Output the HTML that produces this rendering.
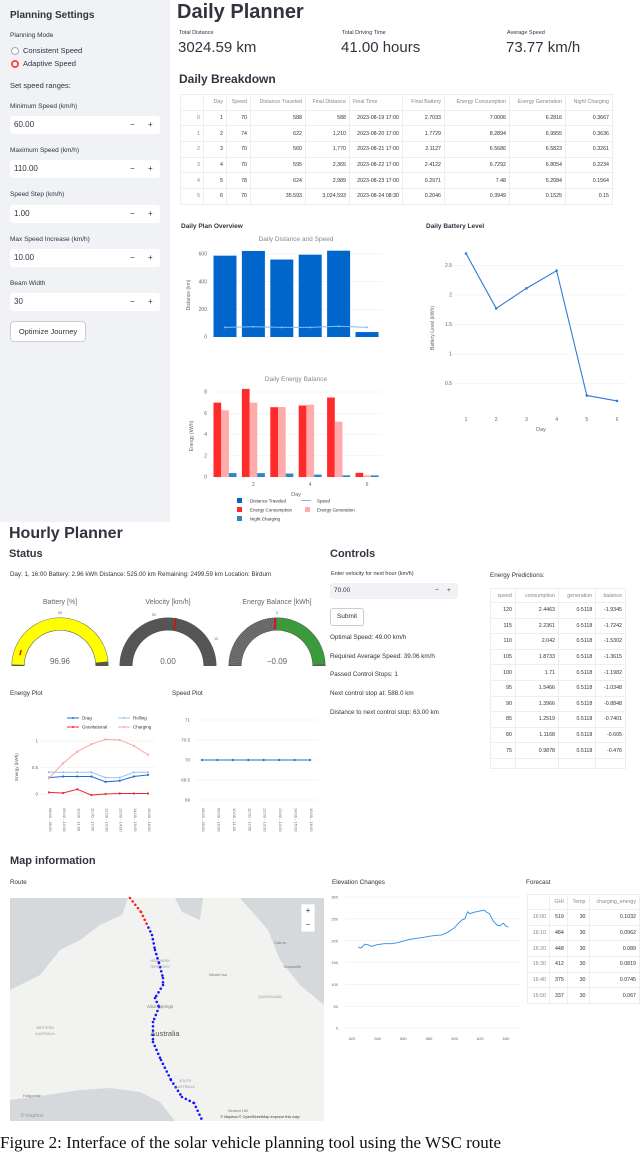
<!DOCTYPE html>
<html><head><meta charset="utf-8">
<style>
body{margin:0;width:640px;height:1142px;overflow:hidden;background:#fff;font-family:"Liberation Sans",sans-serif;color:#31333f;position:relative}
.a{position:absolute;white-space:nowrap}
.sb{left:0;top:0;width:170px;height:522px;background:#f0f2f6}
.lbl{font-size:6.5px;color:#31333f}
.inp{left:10px;width:150px;height:18px;background:#fff;border-radius:3px;font-size:8px;line-height:18px}
.inp span{position:absolute}
.h{font-weight:bold}
table{border-collapse:collapse;font-size:5.3px;color:#333}
td,th{border:1px solid #eceef1;padding:0 3px;text-align:right;font-weight:normal}
th{color:#888}
.t6{font-size:6.5px}
svg text{font-family:"Liberation Sans",sans-serif}
</style></head><body>
<!-- sidebar -->
<div class="a sb"></div>
<div class="a h" style="left:10px;top:10px;font-size:10px">Planning Settings</div>
<div class="a lbl" style="left:10px;top:32px">Planning Mode</div>
<div class="a" style="left:11px;top:47px;width:6px;height:6px;border:1px solid #aaa;border-radius:50%;background:#fff"></div>
<div class="a" style="left:23px;top:46px;font-size:7.5px">Consistent Speed</div>
<div class="a" style="left:11px;top:60px;width:4px;height:4px;border:2px solid #ff4b4b;border-radius:50%;background:#fff"></div>
<div class="a" style="left:23px;top:59px;font-size:7.5px">Adaptive Speed</div>
<div class="a" style="left:10px;top:81px;font-size:7.5px">Set speed ranges:</div>
<div class="a lbl" style="left:10px;top:103px">Minimum Speed (km/h)</div>
<div class="a inp" style="top:116px"><span style="left:4px">60.00</span><span style="left:120px">−</span><span style="left:138px">+</span></div>
<div class="a lbl" style="left:10px;top:147px">Maximum Speed (km/h)</div>
<div class="a inp" style="top:160px"><span style="left:4px">110.00</span><span style="left:120px">−</span><span style="left:138px">+</span></div>
<div class="a lbl" style="left:10px;top:191px">Speed Step (km/h)</div>
<div class="a inp" style="top:205px"><span style="left:4px">1.00</span><span style="left:120px">−</span><span style="left:138px">+</span></div>
<div class="a lbl" style="left:10px;top:236px">Max Speed Increase (km/h)</div>
<div class="a inp" style="top:249px"><span style="left:4px">10.00</span><span style="left:120px">−</span><span style="left:138px">+</span></div>
<div class="a lbl" style="left:10px;top:280px">Beam Width</div>
<div class="a inp" style="top:293px"><span style="left:4px">30</span><span style="left:120px">−</span><span style="left:138px">+</span></div>
<div class="a" style="left:10px;top:321px;width:74px;height:19px;border:1px solid #ccc;border-radius:4px;background:#fff;font-size:7.5px;line-height:19px;text-align:center">Optimize Journey</div>

<!-- daily planner -->
<div class="a h" style="left:177px;top:1px;font-size:20px">Daily Planner</div>
<div class="a" style="left:179px;top:30px;font-size:5.5px">Total Distance</div>
<div class="a" style="left:178px;top:39px;font-size:15px">3024.59 km</div>
<div class="a" style="left:342px;top:30px;font-size:5.5px">Total Driving Time</div>
<div class="a" style="left:341px;top:39px;font-size:15px">41.00 hours</div>
<div class="a" style="left:507px;top:30px;font-size:5.5px">Average Speed</div>
<div class="a" style="left:506px;top:39px;font-size:15px">73.77 km/h</div>
<div class="a h" style="left:179px;top:72px;font-size:12px">Daily Breakdown</div>
<table class="a" style="left:180px;top:94px">
<tr style="height:15.5px"><th style="width:16px"></th><th style="width:16px">Day</th><th style="width:17px">Speed</th><th style="width:48px">Distance Traveled</th><th style="width:37px">Final Distance</th><th style="width:46px;text-align:left">Final Time</th><th style="width:35px">Final Battery</th><th style="width:58px">Energy Consumption</th><th style="width:49px">Energy Generation</th><th style="width:40px">Night Charging</th></tr>
<tr style="height:15.7px"><th>0</th><td>1</td><td>70</td><td>588</td><td>588</td><td>2023-08-19 17:00</td><td>2.7033</td><td>7.0006</td><td>6.2816</td><td>0.3667</td></tr>
<tr style="height:15.7px"><th>1</th><td>2</td><td>74</td><td>622</td><td>1,210</td><td>2023-08-20 17:00</td><td>1.7729</td><td>8.2894</td><td>6.9955</td><td>0.3636</td></tr>
<tr style="height:15.7px"><th>2</th><td>3</td><td>70</td><td>560</td><td>1,770</td><td>2023-08-21 17:00</td><td>2.1127</td><td>6.5686</td><td>6.5823</td><td>0.3261</td></tr>
<tr style="height:15.7px"><th>3</th><td>4</td><td>70</td><td>595</td><td>2,365</td><td>2023-08-22 17:00</td><td>2.4122</td><td>6.7292</td><td>6.8054</td><td>0.2234</td></tr>
<tr style="height:15.7px"><th>4</th><td>5</td><td>78</td><td>624</td><td>2,989</td><td>2023-08-23 17:00</td><td>0.2971</td><td>7.48</td><td>5.2084</td><td>0.1564</td></tr>
<tr style="height:15.7px"><th>5</th><td>6</td><td>70</td><td>35.593</td><td>3,024.593</td><td>2023-08-24 08:30</td><td>0.2046</td><td>0.3949</td><td>0.1525</td><td>0.15</td></tr>
</table>
<div class="a h t6" style="left:181px;top:223px">Daily Plan Overview</div>
<div class="a h t6" style="left:426px;top:223px">Daily Battery Level</div>

<!-- hourly -->
<div class="a h" style="left:9px;top:525px;font-size:16px">Hourly Planner</div>
<div class="a h" style="left:9px;top:548px;font-size:11px">Status</div>
<div class="a h" style="left:330px;top:548px;font-size:11px">Controls</div>
<div class="a" style="left:10px;top:571px;font-size:6.2px">Day: 1, 16:00 Battery: 2.96 kWh Distance: 525.00 km Remaining: 2499.59 km Location: Birdum</div>
<div class="a" style="left:331px;top:571px;font-size:5.5px">Enter velocity for next hour (km/h)</div>
<div class="a" style="left:330px;top:583px;width:128px;height:16px;background:#f0f2f6;border-radius:3px;font-size:6.5px;line-height:16px"><span style="position:absolute;left:4px">70.00</span><span style="position:absolute;left:105px">−</span><span style="position:absolute;left:117px">+</span></div>
<div class="a" style="left:330px;top:608px;width:32px;height:16px;border:1px solid #ccc;border-radius:3px;font-size:6.5px;line-height:16px;text-align:center">Submit</div>
<div class="a" style="left:330px;top:634px;font-size:6.3px">Optimal Speed: 49.00 km/h</div>
<div class="a" style="left:330px;top:653px;font-size:6.3px">Required Average Speed: 39.06 km/h</div>
<div class="a" style="left:330px;top:671px;font-size:6.3px">Passed Control Stops: 1</div>
<div class="a" style="left:330px;top:690px;font-size:6.3px">Next control stop at: 588.0 km</div>
<div class="a" style="left:330px;top:709px;font-size:6.3px">Distance to next control stop: 63.00 km</div>
<div class="a" style="left:490px;top:572px;font-size:6.3px">Energy Predictions:</div>
<table class="a" style="left:490px;top:588px;width:136px;font-size:5.3px">
<tr style="height:14px"><th>speed</th><th>consumption</th><th>generation</th><th>balance</th></tr>
<tr style="height:15.6px"><td>120</td><td>2.4463</td><td>0.5118</td><td>-1.9345</td></tr>
<tr style="height:15.6px"><td>115</td><td>2.2361</td><td>0.5118</td><td>-1.7242</td></tr>
<tr style="height:15.6px"><td>110</td><td>2.042</td><td>0.5118</td><td>-1.5302</td></tr>
<tr style="height:15.6px"><td>105</td><td>1.8733</td><td>0.5118</td><td>-1.3615</td></tr>
<tr style="height:15.6px"><td>100</td><td>1.71</td><td>0.5118</td><td>-1.1982</td></tr>
<tr style="height:15.6px"><td>95</td><td>1.5466</td><td>0.5118</td><td>-1.0348</td></tr>
<tr style="height:15.6px"><td>90</td><td>1.3966</td><td>0.5118</td><td>-0.8848</td></tr>
<tr style="height:15.6px"><td>85</td><td>1.2519</td><td>0.5118</td><td>-0.7401</td></tr>
<tr style="height:15.6px"><td>80</td><td>1.1168</td><td>0.5118</td><td>-0.605</td></tr>
<tr style="height:15.6px"><td>75</td><td>0.9878</td><td>0.5118</td><td>-0.476</td></tr>
<tr style="height:10px"><td></td><td></td><td></td><td></td></tr>
</table>
<div class="a" style="left:10px;top:690px;font-size:6.3px">Energy Plot</div>
<div class="a" style="left:172px;top:690px;font-size:6.3px">Speed Plot</div>

<!-- map -->
<div class="a h" style="left:10px;top:855px;font-size:11px">Map information</div>
<div class="a" style="left:10px;top:879px;font-size:6.3px">Route</div>
<div class="a" style="left:332px;top:879px;font-size:6.3px">Elevation Changes</div>
<div class="a" style="left:526px;top:879px;font-size:6.3px">Forecast</div>
<table class="a" style="left:527px;top:894px;width:113px;font-size:5.3px">
<tr style="height:15px"><th></th><th>GHI</th><th>Temp</th><th>charging_energy</th></tr>
<tr style="height:15.7px"><th>16:00</th><td>519</td><td>30</td><td>0.1032</td></tr>
<tr style="height:15.7px"><th>16:10</th><td>484</td><td>30</td><td>0.0962</td></tr>
<tr style="height:15.7px"><th>16:20</th><td>448</td><td>30</td><td>0.089</td></tr>
<tr style="height:15.7px"><th>16:30</th><td>412</td><td>30</td><td>0.0819</td></tr>
<tr style="height:15.7px"><th>16:40</th><td>375</td><td>30</td><td>0.0745</td></tr>
<tr style="height:15.7px"><th>16:50</th><td>337</td><td>30</td><td>0.067</td></tr>
</table>
<div class="a" style="left:0;top:1133px;font-family:'Liberation Serif',serif;font-size:17px;color:#111">Figure 2: Interface of the solar vehicle planning tool using the WSC route</div>

<svg id="s" class="a" style="left:0;top:0" width="640" height="1142" xmlns="http://www.w3.org/2000/svg"></svg>
<script>
// ---- data ----
const days=[1,2,3,4,5,6];
const distance=[588,622,560,595,624,35.6];
const speed=[70,74,70,70,78,70];
const consumption=[7.0006,8.2894,6.5686,6.7292,7.48,0.3949];
const generation=[6.2816,6.9955,6.5823,6.8054,5.2084,0.1525];
const nightCharging=[0.3667,0.3636,0.3261,0.2234,0.1564,0.15];
const battery=[2.7033,1.7729,2.1127,2.4122,0.2971,0.2046];
const distTicks=[0,200,400,600];
const energyTicks=[0,2,4,6,8];
const batteryTicks=[0.5,1,1.5,2,2.5];
const hours=["08:00 - 09:00","09:00 - 10:00","10:00 - 11:00","11:00 - 12:00","12:00 - 13:00","13:00 - 14:00","14:00 - 15:00","15:00 - 16:00"];
const drag=[0.31,0.33,0.33,0.33,0.23,0.25,0.33,0.36];
const rolling=[0.41,0.41,0.41,0.41,0.31,0.31,0.41,0.41];
const gravitational=[0.03,0.02,0.09,-0.02,0,0.01,0.01,0.01];
const charging=[0.3,0.58,0.8,0.94,1.03,1.02,0.91,0.74];
const hourSpeed=[70,70,70,70,70,70,70,70];
const energyHTicks=[0,0.5,1];
const speedHTicks=[69,69.5,70,70.5,71];
const elevDist=[525,527,530,533,535,540,545,550,555,560,565,570,575,580,585,590,595,600,603,606,608,610,612,615,620,623,625,627,630,633,635,638,640,642];
const elevation=[185,183,192,190,187,191,193,193,195,199,203,205,207,210,212,213,220,230,240,248,250,266,262,265,268,270,265,262,245,236,234,240,233,231];
const elevXTicks=[520,540,560,580,600,620,640];
const elevYTicks=[0,50,100,150,200,250,300];
const gaugeValues=[96.96,0.00,-0.09];

const S=document.getElementById('s');const NS='http://www.w3.org/2000/svg';
function el(t,a,p){const e=document.createElementNS(NS,t);for(const k in a)e.setAttribute(k,a[k]);(p||S).appendChild(e);return e;}
function tx(x,y,s,a){const e=el('text',Object.assign({x:x,y:y,'font-size':5,fill:'#666','text-anchor':'middle'},a||{}));e.textContent=s;return e;}

// Daily distance chart
const dx=d=>225+(d-1)*28.4, dy=v=>337-v*83/600;
tx(296,241,'Daily Distance and Speed',{'font-size':6.5,fill:'#888'});
distTicks.forEach(t=>{el('line',{x1:213,x2:382,y1:dy(t),y2:dy(t),stroke:'#eee','stroke-width':0.6});tx(207,dy(t)+1.7,t,{'text-anchor':'end'});});
const yt=tx(190,295,'Distance (km)',{transform:'rotate(-90 190 295)'});
days.forEach((d,i)=>{const b=el('rect',{x:dx(d)-11.5,y:dy(distance[i]),width:23,height:337-dy(distance[i]),fill:'#0066cc'});
});
el('polyline',{points:days.map((d,i)=>dx(d)+','+dy(speed[i])).join(' '),fill:'none',stroke:'#8ab8ee','stroke-width':1});
days.forEach((d,i)=>el('circle',{cx:dx(d),cy:dy(speed[i]),r:1,fill:'#8ab8ee'}));

// Energy chart
const ey=v=>477-v*85/8;
tx(296,381,'Daily Energy Balance',{'font-size':6.5,fill:'#888'});
energyTicks.forEach(t=>{el('line',{x1:213,x2:382,y1:ey(t),y2:ey(t),stroke:'#eee','stroke-width':0.6});tx(207,ey(t)+1.7,t,{'text-anchor':'end'});});
tx(193,436,'Energy (kWh)',{transform:'rotate(-90 193 436)'});
days.forEach((d,i)=>{
 let r=el('rect',{x:dx(d)-11.5,y:ey(consumption[i]),width:7.7,height:477-ey(consumption[i]),fill:'#ff2b2b'});
 r=el('rect',{x:dx(d)-3.8,y:ey(generation[i]),width:7.7,height:477-ey(generation[i]),fill:'#ffabab'});
 r=el('rect',{x:dx(d)+3.9,y:ey(nightCharging[i]),width:7.6,height:477-ey(nightCharging[i]),fill:'#2e86c1'});
 if(d%2==0)tx(dx(d),486,d);
});
tx(296,496,'Day',{'font-size':5.5});
el('rect',{x:237,y:498,width:5,height:5,fill:'#0066cc'});tx(250,502.5,'Distance Traveled',{'text-anchor':'start','font-size':4.5,fill:'#333'});
el('line',{x1:301,x2:311,y1:500.5,y2:500.5,stroke:'#8ab8ee'});tx(317,502.5,'Speed',{'text-anchor':'start','font-size':4.5,fill:'#333'});
el('rect',{x:237,y:507,width:5,height:5,fill:'#ff2b2b'});tx(250,511.5,'Energy Consumption',{'text-anchor':'start','font-size':4.5,fill:'#333'});
el('rect',{x:305,y:507,width:5,height:5,fill:'#ffabab'});tx(317,511.5,'Energy Generation',{'text-anchor':'start','font-size':4.5,fill:'#333'});
el('rect',{x:237,y:516,width:5,height:5,fill:'#2e86c1'});tx(250,520.5,'Night Charging',{'text-anchor':'start','font-size':4.5,fill:'#333'});

// Battery chart
const bx=d=>466+(d-1)*30.2, by=v=>413-v*59;
batteryTicks.forEach(t=>{el('line',{x1:447,x2:627,y1:by(t),y2:by(t),stroke:'#eee','stroke-width':0.6});tx(452,by(t)+1.7,t,{'text-anchor':'end'});});
days.forEach(d=>tx(bx(d),421,d));
tx(541,431,'Day',{'font-size':5.5});
tx(434,328,'Battery Level (kWh)',{transform:'rotate(-90 434 328)'});
const bl=el('polyline',{points:days.map((d,i)=>bx(d)+','+by(battery[i])).join(' '),fill:'none',stroke:'#2d7bd6','stroke-width':1.1});

days.forEach((d,i)=>el('circle',{cx:bx(d),cy:by(battery[i]),r:1.3,fill:'#2d7bd6'}));

// Gauges
function arc(cx,cy,r,a0,a1){const p=a=>[cx-r*Math.cos(a*Math.PI),cy-r*Math.sin(a*Math.PI)];const s=p(a0),e=p(a1);return `M${s[0]},${s[1]} A${r},${r} 0 0 1 ${e[0]},${e[1]}`;}
function band(cx,cy,f0,f1,col,dash){const g=el('path',{d:arc(cx,cy,42,f0,f1),fill:'none',stroke:col,'stroke-width':12});if(dash)g.setAttribute('stroke-dasharray',dash);return g;}
const gx=[60,168,277],gt=['Battery [%]','Velocity [km/h]','Energy Balance [kWh]'],gy=666;
gx.forEach((cx,i)=>{
 el('path',{d:arc(cx,gy,48.5,0,1)+' L'+(cx+35.5)+','+gy+' '+arc(cx,gy,35.5,1,0).replace('M','L').replace(/A35.5,35.5 0 0 1/,'A35.5,35.5 0 0 0')+' Z',fill:'#555'});
 tx(cx,604,gt[i],{'font-size':7,fill:'#666'});
 tx(cx,664,i==0?'96.96':i==1?'0.00':'−0.09',{'font-size':8,fill:'#666'});
});
band(60,gy,0.01,0.97,'#ffff00');
el('line',{x1:60-45*Math.cos(0.1*Math.PI)+4,y1:gy-45*Math.sin(0.1*Math.PI)-2,x2:60-38*Math.cos(0.1*Math.PI)-4,y2:gy-38*Math.sin(0.1*Math.PI)+1,stroke:'#e00','stroke-width':1.4});
el('line',{x1:168+8,y1:gy-48,x2:168+6,y2:gy-37,stroke:'#e00','stroke-width':1.4});
band(277,gy,0.01,0.5,'#777','1 0.6');band(277,gy,0.5,0.99,'#3b9a3b');
el('line',{x1:275,y1:gy-48,x2:275,y2:gy-37,stroke:'#e00','stroke-width':1.5});
tx(60,614,'50',{'font-size':3.5});tx(154,616,'50',{'font-size':3.5});tx(216,640,'10',{'font-size':3.5});tx(277,614,'0',{'font-size':3.5});

// Hourly energy plot
const hx=i=>49+i*(99/7), hy=v=>794-v*53;
energyHTicks.forEach(t=>{el('line',{x1:40,x2:156,y1:hy(t),y2:hy(t),stroke:'#eee','stroke-width':0.6});tx(38,hy(t)+1.7,t,{'text-anchor':'end','font-size':4.5});});
tx(18,767,'Energy (kWh)',{transform:'rotate(-90 18 767)','font-size':4.5});
hours.forEach((h,i)=>tx(hx(i),808,h,{transform:`rotate(90 ${hx(i)} 808)`,'text-anchor':'start','font-size':4}));
function series(arr,col,x,y,name){const l=el('polyline',{points:arr.map((v,i)=>x(i)+','+y(v)).join(' '),fill:'none',stroke:col,'stroke-width':1});arr.forEach((v,i)=>el('circle',{cx:x(i),cy:y(v),r:1.1,fill:col}));}
series(rolling,'#9cc4ef',hx,hy,'rolling-line');series(drag,'#1e6fc8',hx,hy,'drag-line');series(gravitational,'#ee2b2b',hx,hy,'gravitational-line');series(charging,'#f7a9a9',hx,hy,'charging-line');
[[67,718,'#1e6fc8','Drag'],[118,718,'#9cc4ef','Rolling'],[67,727,'#ee2b2b','Gravitational'],[118,727,'#f7a9a9','Charging']].forEach(l=>{el('line',{x1:l[0],x2:l[0]+12,y1:l[1],y2:l[1],stroke:l[2]});el('circle',{cx:l[0]+6,cy:l[1],r:1,fill:l[2]});tx(l[0]+15,l[1]+1.5,l[3],{'text-anchor':'start','font-size':4.5,fill:'#333'});});
// Speed plot
const sx=i=>202+i*(108/7), sy=v=>760-(v-70)*40;
speedHTicks.forEach(t=>{el('line',{x1:195,x2:318,y1:sy(t),y2:sy(t),stroke:'#eee','stroke-width':0.6});tx(190,sy(t)+1.7,t,{'text-anchor':'end','font-size':4.5});});
hours.forEach((h,i)=>tx(sx(i),808,h,{transform:`rotate(90 ${sx(i)} 808)`,'text-anchor':'start','font-size':4}));
series(hourSpeed,'#1e6fc8',sx,sy,'speed-line');

// Map
const g=el('g',{});
el('rect',{x:10,y:898,width:314,height:223,fill:'#f2f2f1'},g);
el('path',{d:'M10,898 H128 L122,915 L100,925 L80,940 L60,950 L40,975 L10,990 Z',fill:'#d5d9db'},g);
el('path',{d:'M175,898 L182,912 L200,920 L203,898 Z',fill:'#d5d9db'},g);
el('path',{d:'M240,898 L255,915 L268,930 L280,960 L300,985 L324,1005 V898 Z',fill:'#d5d9db'},g);
el('path',{d:'M10,1121 V1100 L40,1096 L80,1090 L110,1088 L140,1092 L160,1102 L175,1121 Z',fill:'#d5d9db'},g);
el('rect',{x:301,y:904,width:14,height:28,fill:'#fff',stroke:'#ccc','stroke-width':0.5},g);
tx(308,913,'+',{'font-size':8,fill:'#333'});tx(308,927,'−',{'font-size':8,fill:'#333'});
tx(165,1036,'Australia',{'font-size':7.5,fill:'#555'});tx(160,1008,'Alice Springs',{'font-size':4.5,fill:'#777'});
tx(218,976,'Mount Isa',{'font-size':4,fill:'#777'});tx(270,998,'QUEENSLAND',{'font-size':3.5,fill:'#999'});
tx(160,962,'NORTHERN',{'font-size':3.5,fill:'#999'});tx(160,968,'TERRITORY',{'font-size':3.5,fill:'#999'});
tx(45,1029,'WESTERN',{'font-size':3.5,fill:'#999'});tx(45,1035,'AUSTRALIA',{'font-size':3.5,fill:'#999'});
tx(185,1082,'SOUTH',{'font-size':3.5,fill:'#999'});tx(185,1088,'AUSTRALIA',{'font-size':3.5,fill:'#999'});
tx(280,944,'Cairns',{'font-size':4,fill:'#777'});tx(292,968,'Townsville',{'font-size':4,fill:'#777'});
tx(238,1112,'Broken Hill',{'font-size':4,fill:'#777'});tx(260,1118,'© Mapbox © OpenStreetMap  Improve this map',{'font-size':3.8,fill:'#333'});
tx(32,1117,'© mapbox',{'font-size':5,fill:'#999'});tx(32,1097,'Kalgoorlie',{'font-size':4,fill:'#777'});
const route=[[130,898],[141,912],[152,935],[155,950],[159,963],[163,978],[163,985],[155,998],[159,1007],[153,1022],[153,1042],[161,1060],[171,1080],[182,1097],[194,1103],[202,1120]];
let n=0;for(let i=1;i<route.length;i++){const [x0,y0]=route[i-1],[x1,y1]=route[i];const L=Math.hypot(x1-x0,y1-y0);for(let t=0;t<L;t+=4.3){el('circle',{cx:x0+(x1-x0)*t/L,cy:y0+(y1-y0)*t/L,r:1.3,fill:n<9?'#ff2020':'#1515ff'},g);n++;}}

// Elevation chart
const ex=v=>352+(v-520)*154/120, eyy=v=>1028-v*131/300;
elevYTicks.forEach(t=>{el('line',{x1:345,x2:520,y1:eyy(t),y2:eyy(t),stroke:'#eee','stroke-width':0.6});tx(338,eyy(t)+1.7,t,{'text-anchor':'end','font-size':4});});
elevXTicks.forEach(t=>tx(ex(t),1040,t,{'font-size':4}));
const ev=el('polyline',{points:elevDist.map((d,i)=>ex(d)+','+eyy(elevation[i])).join(' '),fill:'none',stroke:'#2e8ee0','stroke-width':0.9});

</script>
</body></html>
